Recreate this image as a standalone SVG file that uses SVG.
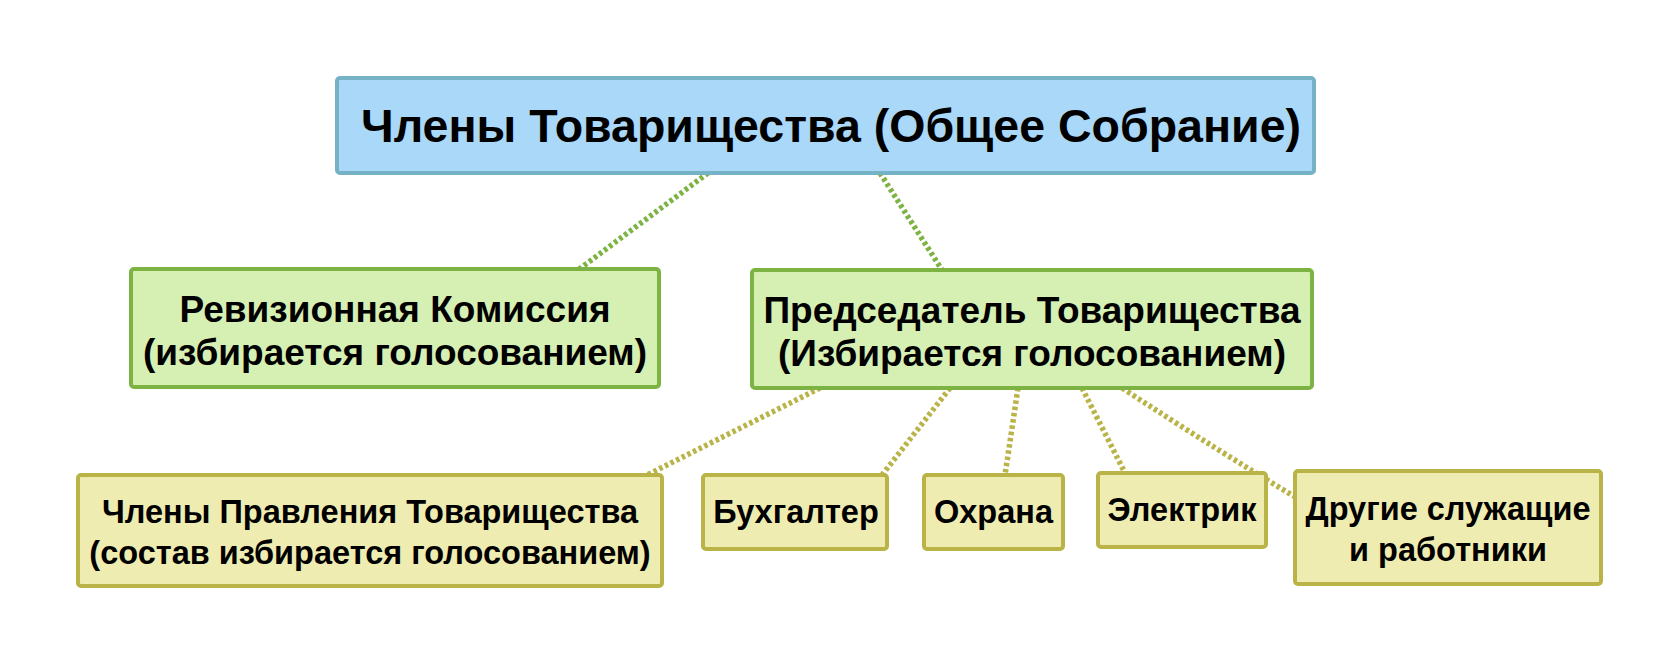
<svg xmlns="http://www.w3.org/2000/svg" width="1680" height="665" viewBox="0 0 1680 665">
<style>
.t{font-family:"Liberation Sans",Arial,sans-serif;font-weight:bold;fill:#000;text-anchor:middle}
.blue{fill:#a9d8f8;stroke:#76b2c6;stroke-width:4}
.green{fill:#d6efb3;stroke:#7db343;stroke-width:4}
.yel{fill:#efecb1;stroke:#b9b348;stroke-width:4}
.cg{fill:none;stroke:#7db343;stroke-width:5.5;stroke-dasharray:3.5 2.8}
.cy{fill:none;stroke:#b9b348;stroke-width:5.5;stroke-dasharray:3.5 2.8}
</style>
<rect width="1680" height="665" fill="#fff"/>
<g id="connectors">
<path class="cg" d="M708,173 L578,270"/>
<path class="cg" d="M880,173 L942,270"/>
<path class="cy" d="M820,388 L647,475"/>
<path class="cy" d="M950,388 L882,475"/>
<path class="cy" d="M1018,388 L1005,475"/>
<path class="cy" d="M1082,388 L1125,473"/>
<path class="cy" d="M1122,388 Q1220,452 1297,498"/>
</g>
<g id="n-top">
<rect class="blue" x="337" y="78" width="977" height="95" rx="3"/>
<text class="t" x="831" y="142" font-size="46.5">Члены Товарищества (Общее Собрание)</text>
</g>
<g id="n-rev">
<rect class="green" x="131" y="269" width="528" height="118" rx="3"/>
<text class="t" x="395" y="322" font-size="37">Ревизионная Комиссия</text>
<text class="t" x="395" y="365" font-size="37">(избирается голосованием)</text>
</g>
<g id="n-pred">
<rect class="green" x="752" y="270" width="560" height="118" rx="3"/>
<text class="t" x="1032" y="323" font-size="37">Председатель Товарищества</text>
<text class="t" x="1032" y="366" font-size="37">(Избирается голосованием)</text>
</g>
<g id="n-pravl">
<rect class="yel" x="78" y="475" width="584" height="111" rx="3"/>
<text class="t" x="370" y="523" font-size="32.5">Члены Правления Товарищества</text>
<text class="t" x="370" y="564" font-size="32.5">(состав избирается голосованием)</text>
</g>
<g id="n-buh">
<rect class="yel" x="703" y="475" width="184" height="74" rx="3"/>
<text class="t" x="796" y="523" font-size="32.5">Бухгалтер</text>
</g>
<g id="n-ohr">
<rect class="yel" x="924" y="475" width="139" height="74" rx="3"/>
<text class="t" x="993.5" y="523" font-size="32.5">Охрана</text>
</g>
<g id="n-el">
<rect class="yel" x="1098" y="473" width="168" height="74" rx="3"/>
<text class="t" x="1182" y="521" font-size="32.5">Электрик</text>
</g>
<g id="n-dr">
<rect class="yel" x="1295" y="471" width="306" height="113" rx="3"/>
<text class="t" x="1448" y="520" font-size="32.5">Другие служащие</text>
<text class="t" x="1448" y="561" font-size="32.5">и работники</text>
</g>
</svg>
